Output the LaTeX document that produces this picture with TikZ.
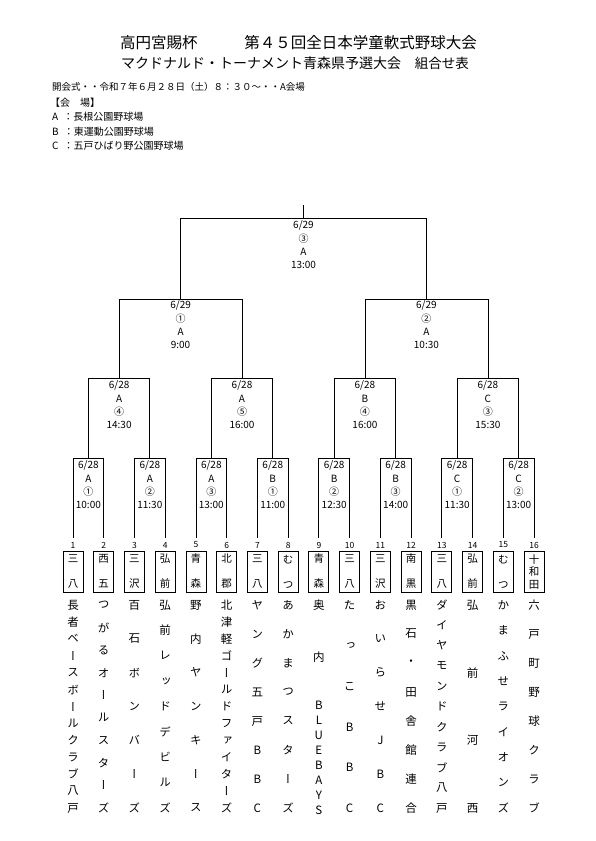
\documentclass[tikz,border=0pt]{standalone}
\usepackage{fontspec}
\setmainfont{Noto Sans CJK JP}
\newfontfamily\jpv[RawFeature=+vert]{Noto Sans CJK JP}
\usetikzlibrary{calc}
\newcommand\mlab[7]{%
  \node[lbl] (#1-1) at (#2,#3+3.6) {#4};
  \node[lbl] (#1-2) at (#2,#3+3.6+13.4) {#5};
  \node[lbl] (#1-3) at (#2,#3+3.6+26.8) {#6};
  \node[lbl] (#1-4) at (#2,#3+3.6+40.2) {#7};}
\newcommand\tname[3]{%
  \pgfmathsetmacro\nx{73+(#1-1)*30.733}
  \foreach \c [count=\k] in {#3} {
    \pgfmathsetmacro\ny{605+(\k-1)*203/(#2-1)}
    \node[namech] (nm#1-\k) at (\nx,\ny) {\c};}}
\begin{document}
\begin{tikzpicture}[x=1pt,y=-1pt,
  line/.style={line width=0.8pt,black},
  lbl/.style={font=\fontsize{10}{11}\selectfont,inner sep=0pt,anchor=base},
  num/.style={font=\fontsize{8.5}{9}\selectfont,inner xsep=0pt,inner ysep=4pt},
  tbox/.style={draw,line width=0.8pt,minimum width=20pt,minimum height=41pt,inner sep=0pt,align=center,font=\fontsize{10.5}{25}\selectfont},
  tbox3/.style={tbox,font=\fontsize{10.5}{12.5}\selectfont},
  namech/.style={font=\jpv\fontsize{11.5}{12}\selectfont,inner sep=0pt},
  hdr/.style={font=\fontsize{9.5}{10}\selectfont,inner sep=0pt,anchor=west},
  ven/.style={font=\fontsize{10}{10}\selectfont,inner sep=0pt,anchor=west}]
\fill[white] (0,0) rectangle (595,841);
\useasboundingbox (0,0) rectangle (595,841);
% titles
\node[inner sep=0pt,anchor=west,font=\fontsize{15.5}{16}\selectfont] (t1a) at (120,43) {高円宮賜杯};
\node[inner sep=0pt,anchor=east,font=\fontsize{15.5}{16}\selectfont] (t1b) at (477,43) {第４５回全日本学童軟式野球大会};
\node[inner sep=0pt,anchor=west,font=\fontsize{14}{15}\selectfont] (t2a) at (121,63) {マクドナルド・トーナメント青森県予選大会};
\node[inner sep=0pt,anchor=east,font=\fontsize{13.5}{15}\selectfont] (t2b) at (469,63) {組合せ表};
% header info
\node[hdr] (h0) at (52,87) {開会式・・令和７年６月２８日（土）８：３０～・・A会場};
\node[ven] (h1) at (50,103) {【会　場】};
\node[ven] (h2) at (52,117) {A\hspace{5pt}：長根公園野球場};
\node[ven] (h3) at (52,131.5) {B\hspace{5pt}：東運動公園野球場};
\node[ven] (h4) at (52,146) {C\hspace{5pt}：五戸ひばり野公園野球場};
% numbers, team boxes
\foreach \i in {1,...,16} {
  \pgfmathsetmacro\tx{73+(\i-1)*30.733}
  \node[num] (n\i) at (\tx,545) {\i};
}
\foreach \i/\s in {1/{三\\八},2/{西\\五},3/{三\\沢},4/{弘\\前},5/{青\\森},6/{北\\郡},7/{三\\八},8/{む\\つ},9/{青\\森},10/{三\\八},11/{三\\沢},12/{南\\黒},13/{三\\八},14/{弘\\前},15/{む\\つ}} {
  \pgfmathsetmacro\tx{73+(\i-1)*30.733}
  \node[tbox] (b\i) at (\tx,571.5) {\s};
}
\node[tbox3] (b16) at (534,571.5) {十\\和\\田};
% bracket coordinates
\foreach \j/\x in {1/88.37,2/149.83,3/211.3,4/272.77,5/334.23,6/395.7,7/457.17,8/518.63} {
  \coordinate (r\j) at (\x,458);
}
\foreach \j/\x in {1/119.1,2/242.03,3/364.97,4/487.9} {
  \coordinate (q\j) at (\x,378);
}
\coordinate (s1) at (180.57,299);
\coordinate (s2) at (426.43,299);
\coordinate (f) at (303.5,218);
\coordinate (top) at (303.5,205);
% first round
\foreach \j [evaluate=\j as \a using int(2*\j-1), evaluate=\j as \b using int(2*\j)] in {1,...,8} {
  \draw[line] (n\a.north) -- (n\a.north |- r\j) -- (n\b.north |- r\j) -- (n\b.north);
}
% quarter finals
\foreach \j [evaluate=\j as \a using int(2*\j-1), evaluate=\j as \b using int(2*\j)] in {1,...,4} {
  \draw[line] (r\a) -- (r\a |- q\j) -- (r\b |- q\j) -- (r\b);
}
% semi finals
\draw[line] (q1) -- (q1 |- s1) -- (q2 |- s1) -- (q2);
\draw[line] (q3) -- (q3 |- s2) -- (q4 |- s2) -- (q4);
% final
\draw[line] (s1) -- (s1 |- f) -- (s2 |- f) -- (s2);
\draw[line] (f) -- (top);
% labels
\mlab{lf}{303.5}{225}{6/29}{③}{A}{13:00}
\mlab{ls1}{180.57}{305}{6/29}{①}{A}{9:00}
\mlab{ls2}{426.43}{305}{6/29}{②}{A}{10:30}
\mlab{lq1}{119.1}{385}{6/28}{A}{④}{14:30}
\mlab{lq2}{242.03}{385}{6/28}{A}{⑤}{16:00}
\mlab{lq3}{364.97}{385}{6/28}{B}{④}{16:00}
\mlab{lq4}{487.9}{385}{6/28}{C}{③}{15:30}
\mlab{lr1}{88.37}{465}{6/28}{A}{①}{10:00}
\mlab{lr2}{149.83}{465}{6/28}{A}{②}{11:30}
\mlab{lr3}{211.3}{465}{6/28}{A}{③}{13:00}
\mlab{lr4}{272.77}{465}{6/28}{B}{①}{11:00}
\mlab{lr5}{334.23}{465}{6/28}{B}{②}{12:30}
\mlab{lr6}{395.7}{465}{6/28}{B}{③}{14:00}
\mlab{lr7}{457.17}{465}{6/28}{C}{①}{11:30}
\mlab{lr8}{518.63}{465}{6/28}{C}{②}{13:00}
% team names
\tname{1}{13}{長,者,ベ,ー,ス,ボ,ー,ル,ク,ラ,ブ,八,戸}
\tname{2}{10}{つ,が,る,オ,ー,ル,ス,タ,ー,ズ}
\tname{3}{7}{百,石,ボ,ン,バ,ー,ズ}
\tname{4}{9}{弘,前,レ,ッ,ド,デ,ビ,ル,ズ}
\tname{5}{7}{野,内,ヤ,ン,キ,ー,ス}
\tname{6}{13}{北,津,軽,ゴ,ー,ル,ド,フ,ァ,イ,タ,ー,ズ}
\tname{7}{8}{ヤ,ン,グ,五,戸,B,B,C}
\tname{8}{8}{あ,か,ま,つ,ス,タ,ー,ズ}
\node[namech] (nm9-1) at (318.87,605) {奥};
\node[namech] (nm9-2) at (318.87,657) {内};
\foreach \c [count=\k] in {B,L,U,E,B,A,Y,S} {
  \pgfmathsetmacro\ny{705+(\k-1)*15}
  \node[namech] (nm9-l\k) at (318.87,\ny) {\c};
}
\tname{10}{6}{た,っ,こ,B,B,C}
\tname{11}{7}{お,い,ら,せ,J,B,C}
\tname{12}{8}{黒,石,・,田,舎,館,連,合}
\tname{13}{11}{ダ,イ,ヤ,モ,ン,ド,ク,ラ,ブ,八,戸}
\tname{14}{4}{弘,前,河,西}
\tname{15}{9}{か,ま,ふ,せ,ラ,イ,オ,ン,ズ}
\tname{16}{8}{六,戸,町,野,球,ク,ラ,ブ}
\end{tikzpicture}
\end{document}
